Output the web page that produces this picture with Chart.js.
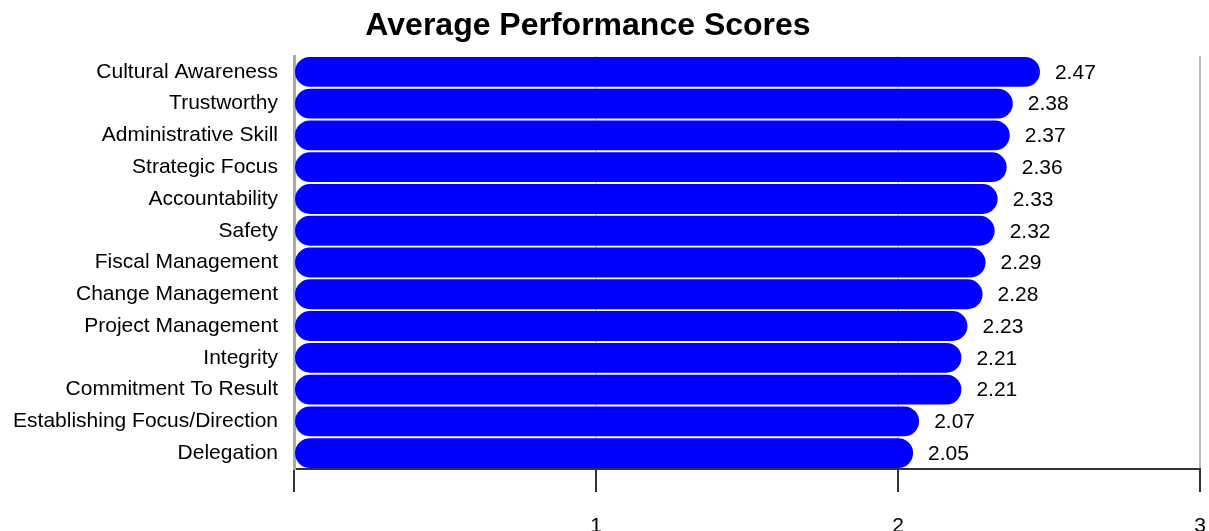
<!DOCTYPE html>
<html>
<head>
<meta charset="utf-8">
<script src="https://cdn.jsdelivr.net/npm/chart.js@4.4.1/dist/chart.umd.min.js"></script>
<style>
  html, body { margin: 0; padding: 0; background: #fff; }
  #wrap { width: 1209px; height: 531px; position: relative; }
</style>
</head>
<body>
<div id="wrap"><canvas id="perfChart"></canvas></div>
<script>
// Average scores per competency
const categories = [
    'Cultural Awareness', 'Trustworthy', 'Administrative Skill', 'Strategic Focus',
    'Accountability', 'Safety', 'Fiscal Management', 'Change Management',
    'Project Management', 'Integrity', 'Commitment To Result',
    'Establishing Focus/Direction', 'Delegation'
];
const scores = [2.47, 2.38, 2.37, 2.36, 2.33, 2.32, 2.29, 2.28, 2.23, 2.21, 2.21, 2.07, 2.05];
const xTicks = [0, 1, 2, 3];

const FONT = 'Arial, "Liberation Sans", sans-serif';

// Value label to the right of every bar + the title
const barLabels = {
    id: 'barLabels',
    afterDatasetsDraw(chart) {
        const ctx = chart.ctx;
        const meta = chart.getDatasetMeta(0);
        ctx.save();
        ctx.font = '21px ' + FONT;
        ctx.fillStyle = '#000';
        ctx.textAlign = 'left';
        ctx.textBaseline = 'middle';
        meta.data.forEach((bar, i) => {
            ctx.fillText(scores[i].toFixed(2), bar.x + 15, bar.y + 1);
        });
        ctx.font = 'bold 32px ' + FONT;
        ctx.textAlign = 'center';
        ctx.fillText('Average Performance Scores', 588, 26);
        ctx.restore();
    }
};

new Chart(document.getElementById('perfChart'), {
    type: 'bar',
    data: {
        labels: categories,
        datasets: [{
            data: scores,
            backgroundColor: '#0000ff',
            borderWidth: 0,
            borderRadius: 15,
            borderSkipped: false,
            barPercentage: 0.94,
            categoryPercentage: 1
        }]
    },
    options: {
        indexAxis: 'y',
        responsive: true,
        maintainAspectRatio: false,
        animation: false,
        layout: { padding: { top: 56, right: 9, left: 0, bottom: 0 } },
        plugins: {
            legend: { display: false },
            tooltip: { enabled: false },
            title: { display: false }
        },
        scales: {
            x: {
                min: 0,
                max: 3,
                afterBuildTicks(scale) {
                    scale.ticks = xTicks.map(v => ({ value: v }));
                },
                afterFit(scale) {
                    scale.height = 62;
                    scale.paddingLeft = 0;
                    scale.paddingRight = 0;
                },
                grid: {
                    // last gridline (at 3) is darker than the inner ones
                    color: c => (c.tick && c.tick.value === 3 ? '#b8b8b8' : '#e0e0e0'),
                    lineWidth: 2,
                    tickColor: '#333',
                    tickLength: 23,
                    tickWidth: 2
                },
                border: { display: true, color: '#333', width: 2 },
                ticks: {
                    padding: 22,
                    color: '#000',
                    maxRotation: 0,
                    font: { family: FONT, size: 21 },
                    callback: v => (v === 0 ? '' : String(v))
                }
            },
            y: {
                afterFit(scale) { scale.width = 294; },
                grid: { display: false },
                border: { display: true, color: '#aaa', width: 3 },
                ticks: {
                    padding: 8,
                    color: '#000',
                    font: { family: FONT, size: 21 }
                }
            }
        }
    },
    plugins: [barLabels]
});
</script>
</body>
</html>
